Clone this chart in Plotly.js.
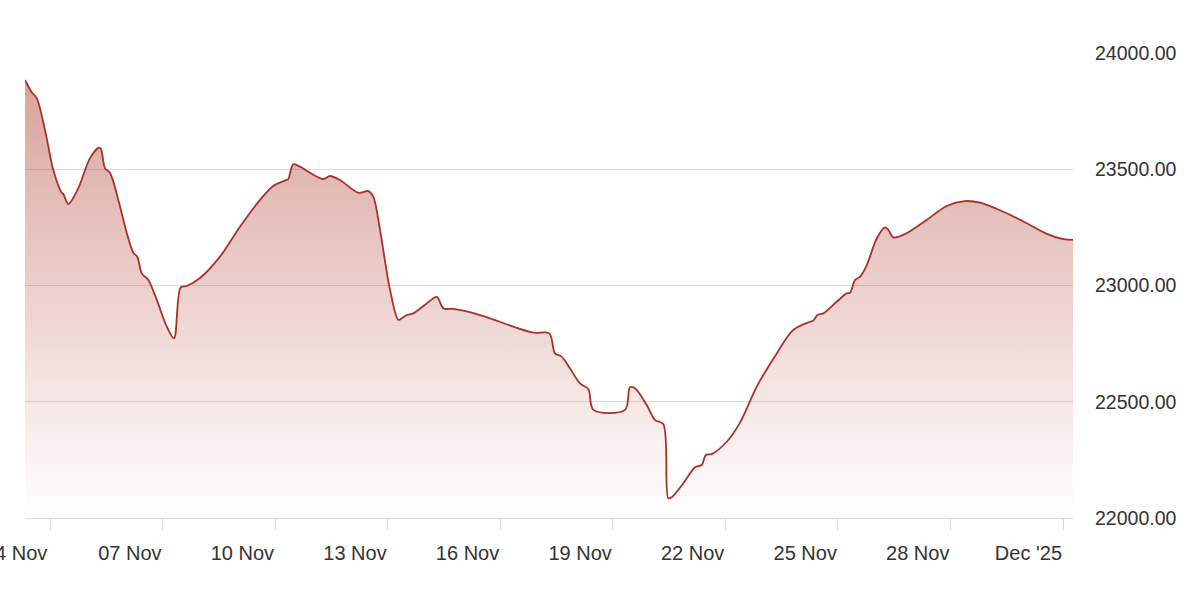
<!DOCTYPE html>
<html>
<head>
<meta charset="utf-8">
<script src="https://cdn.plot.ly/plotly-3.0.1.min.js"></script>
<style>html,body{margin:0;padding:0;background:#fff;}#chart{width:1188px;height:612px;}</style>
</head>
<body>
<div id="chart"></div>
<script>
// Timestamps (local market time) and index values
const dates = [
  "2025-11-03 08:00","2025-11-03 12:20","2025-11-03 15:30","2025-11-03 20:48","2025-11-04 02:06",
  "2025-11-04 07:30","2025-11-04 08:30","2025-11-04 11:42","2025-11-04 18:06","2025-11-05 01:36",
  "2025-11-05 07:20","2025-11-05 08:36","2025-11-05 11:12","2025-11-05 14:24","2025-11-05 19:42",
  "2025-11-06 01:06","2025-11-06 05:18","2025-11-06 07:48","2025-11-06 10:42","2025-11-06 14:54",
  "2025-11-06 20:18","2025-11-07 02:42","2025-11-07 07:18","2025-11-07 11:36","2025-11-07 15:24",
  "2025-11-08 00:00","2025-11-08 12:42","2025-11-09 01:30","2025-11-09 14:18","2025-11-09 22:48",
  "2025-11-10 07:24","2025-11-10 08:24","2025-11-10 11:36","2025-11-10 15:54","2025-11-10 22:18",
  "2025-11-11 06:48","2025-11-11 11:06","2025-11-11 17:30","2025-11-12 05:12","2025-11-12 11:36",
  "2025-11-12 14:48","2025-11-12 19:06","2025-11-13 01:30","2025-11-13 06:48","2025-11-13 09:00",
  "2025-11-13 12:12","2025-11-13 16:24","2025-11-14 01:00","2025-11-14 07:24","2025-11-14 11:36",
  "2025-11-14 18:00","2025-11-15 11:06","2025-11-16 08:24","2025-11-16 21:12","2025-11-17 07:24",
  "2025-11-17 11:00","2025-11-17 15:18","2025-11-17 20:36","2025-11-18 03:00","2025-11-18 08:24",
  "2025-11-18 11:36","2025-11-19 07:48","2025-11-19 11:00","2025-11-19 14:12","2025-11-19 21:42",
  "2025-11-20 03:00","2025-11-20 08:18","2025-11-20 11:30","2025-11-20 13:42","2025-11-20 21:06",
  "2025-11-21 04:36","2025-11-21 08:54","2025-11-21 11:30","2025-11-21 15:18","2025-11-22 00:54",
  "2025-11-22 09:24","2025-11-22 20:06","2025-11-23 08:54","2025-11-23 19:30","2025-11-24 06:12",
  "2025-11-24 08:18","2025-11-24 10:54","2025-11-24 14:42","2025-11-24 23:12","2025-11-25 05:36",
  "2025-11-25 07:48","2025-11-25 11:00","2025-11-25 14:12","2025-11-25 18:30","2025-11-26 00:54",
  "2025-11-26 06:12","2025-11-26 08:18","2025-11-26 11:30","2025-11-26 20:00","2025-11-27 08:48",
  "2025-11-27 21:36","2025-11-28 09:18","2025-11-28 18:54","2025-11-29 09:48","2025-11-30 00:48",
  "2025-11-30 13:36","2025-12-01 00:12","2025-12-01 06:24"
];
const values = [
  23884,23831,23806,23669,23497,
  23399,23394,23350,23419,23548,
  23593,23587,23504,23484,23368,
  23226,23140,23124,23052,23024,
  22938,22823,22773,22992,22998,
  23032,23124,23253,23368,23428,
  23454,23457,23521,23511,23485,
  23458,23471,23454,23399,23406,
  23382,23239,22981,22852,22859,
  22873,22880,22923,22951,22902,
  22899,22873,22823,22797,22794,
  22708,22694,22644,22579,22554,
  22465,22465,22562,22558,22486,
  22421,22404,22085,22089,22149,
  22218,22228,22271,22275,22328,
  22410,22565,22708,22809,22844,
  22849,22873,22880,22930,22966,
  22969,23024,23038,23088,23203,
  23250,23239,23207,23225,23282,
  23342,23363,23356,23317,23268,
  23222,23199,23196
];
const xTickVals = ["2025-11-04","2025-11-07","2025-11-10","2025-11-13","2025-11-16",
                   "2025-11-19","2025-11-22","2025-11-25","2025-11-28","2025-12-01"];
const xTickText = ["04 Nov","07 Nov","10 Nov","13 Nov","16 Nov",
                   "19 Nov","22 Nov","25 Nov","28 Nov","Dec '25"];
const yTickVals = [22000, 22500, 23000, 23500, 24000];
const xRange = ["2025-11-03 08:00", "2025-12-01 06:24"];
const yRange = [22000, 24000];

const trace = {
  x: dates,
  y: values,
  type: 'scatter',
  mode: 'lines',
  line: {color: '#a8322a', width: 1.8, shape: 'spline', smoothing: 0.9},
  fill: 'tozeroy',
  fillgradient: {
    type: 'vertical',
    start: yRange[0],
    stop: yRange[1],
    colorscale: [[0, 'rgba(190,85,75,0.0)'], [1, 'rgba(180,75,65,0.55)']]
  },
  hoverinfo: 'x+y'
};

const tickFont = {family: '"Liberation Sans", Arial, sans-serif', size: 20, color: '#333333'};

const layout = {
  width: 1188,
  height: 612,
  margin: {l: 25, r: 115, t: 53, b: 94},
  paper_bgcolor: '#ffffff',
  plot_bgcolor: '#ffffff',
  showlegend: false,
  font: {family: '"Liberation Sans", Arial, sans-serif', size: 20, color: '#333333'},
  xaxis: {
    type: 'date',
    range: xRange,
    tickmode: 'array',
    tickvals: xTickVals,
    ticktext: xTickText,
    ticks: 'outside',
    ticklen: 11,
    tickwidth: 1,
    tickcolor: '#dddddd',
    ticklabelposition: 'outside left',
    ticklabelstandoff: 17,
    showgrid: false,
    zeroline: false,
    showline: true,
    linecolor: '#dddddd',
    linewidth: 1,
    tickfont: tickFont,
    fixedrange: true
  },
  yaxis: {
    side: 'right',
    range: yRange,
    tickmode: 'array',
    tickvals: yTickVals,
    tickformat: '.2f',
    showgrid: true,
    gridcolor: '#dddddd',
    gridwidth: 1,
    zeroline: false,
    showline: false,
    ticks: '',
    ticklabelstandoff: 21,
    tickfont: {family: '"Liberation Sans", Arial, sans-serif', size: 19.5, color: '#333333'},
    fixedrange: true
  },
  // first tick label sits partly outside the plot, so Plotly hides it; draw it at its tick date
  annotations: [{
    x: xTickVals[0],
    xref: 'x',
    y: 0,
    yref: 'paper',
    yanchor: 'top',
    xanchor: 'right',
    yshift: -22,
    xshift: -1,
    text: xTickText[0],
    showarrow: false,
    font: tickFont
  }]
};

Plotly.newPlot('chart', [trace], layout, {displayModeBar: false, staticPlot: true});
</script>
</body>
</html>
